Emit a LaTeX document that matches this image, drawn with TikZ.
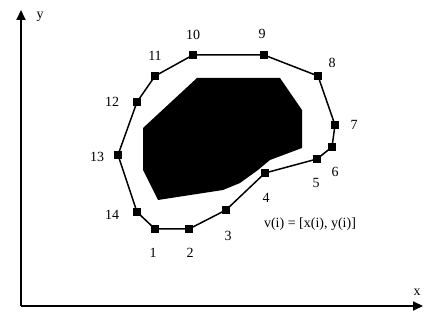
\documentclass[tikz,border=0pt]{standalone}
\usepackage{fontspec}
\setmainfont{Liberation Serif}
\usetikzlibrary{arrows.meta}
\begin{document}
\begin{tikzpicture}[x=1pt,y=-1pt,
  vtx/.style={rectangle,fill=black,inner sep=0pt,minimum size=7.5pt},
  lbl/.style={inner sep=0pt,font=\fontsize{14}{16}\selectfont},
  axis/.style={line width=2pt,-{Triangle[length=10pt,width=9pt]}},
  contour/.style={line width=1.5pt}]
\useasboundingbox (0,0) rectangle (424,320);
% axes
\coordinate (o) at (21,306);
\coordinate (ytip) at (21,10);
\coordinate (xtip) at (423,306);
\draw[axis] (o) -- (ytip);
\draw[axis] (o) -- (xtip);
\node[lbl] (ylab) at (40,17) {y};
\node[lbl] (xlab) at (417,292) {x};
% object
\fill (143,128) -- (197,78) -- (280,78) -- (302,110) -- (302,148) -- (270,160)
  -- (258,170) -- (240,183) -- (223,190) -- (158,200) -- (143,170) -- cycle;
% contour vertices
\node[vtx] (p1) at (155,229) {};
\node[vtx] (p2) at (189,229) {};
\node[vtx] (p3) at (226,210) {};
\node[vtx] (p4) at (265,173) {};
\node[vtx] (p5) at (317,159) {};
\node[vtx] (p6) at (332,147) {};
\node[vtx] (p7) at (335,125) {};
\node[vtx] (p8) at (318,76) {};
\node[vtx] (p9) at (264,55) {};
\node[vtx] (p10) at (193,55) {};
\node[vtx] (p11) at (155,76) {};
\node[vtx] (p12) at (137,102) {};
\node[vtx] (p13) at (118,155) {};
\node[vtx] (p14) at (137,212) {};
\draw[contour] (p1.center) -- (p2.center) -- (p3.center) -- (p4.center) -- (p5.center)
  -- (p6.center) -- (p7.center) -- (p8.center) -- (p9.center) -- (p10.center)
  -- (p11.center) -- (p12.center) -- (p13.center) -- (p14.center) -- (p1.center);
% labels
\node[lbl] (l1) at (153,253) {1};
\node[lbl] (l2) at (190,253) {2};
\node[lbl] (l3) at (228,236) {3};
\node[lbl] (l4) at (266,198) {4};
\node[lbl] (l5) at (316,183) {5};
\node[lbl] (l6) at (335,172) {6};
\node[lbl] (l7) at (354,125) {7};
\node[lbl] (l8) at (332,63) {8};
\node[lbl] (l9) at (262,34) {9};
\node[lbl] (l10) at (193,35) {10};
\node[lbl] (l11) at (155,56) {11};
\node[lbl] (l12) at (112,102) {12};
\node[lbl] (l13) at (97,157) {13};
\node[lbl] (l14) at (112,215) {14};
\node[lbl,font=\fontsize{14}{16}\selectfont] (eq) at (310,224) {v(i) = [x(i), y(i)]};
\end{tikzpicture}
\end{document}
